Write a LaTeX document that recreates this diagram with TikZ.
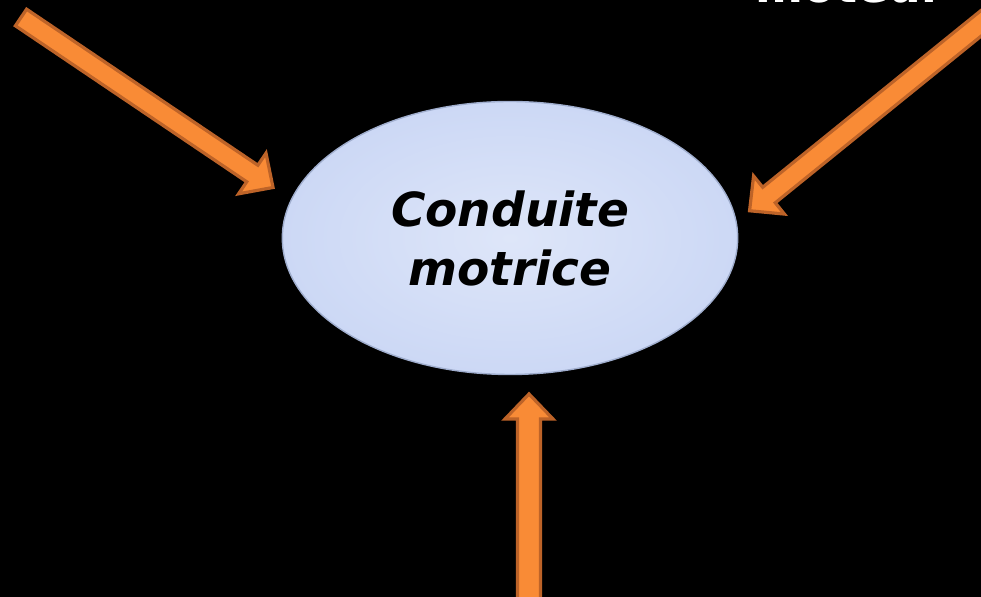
\documentclass[tikz,border=0pt]{standalone}
\usepackage{fontspec}
\setmainfont{DejaVu Sans}
\usetikzlibrary{shapes.geometric}

\definecolor{arrowfill}{RGB}{249,139,54}
\definecolor{arrowedge}{RGB}{189,99,40}
\definecolor{bubblein}{RGB}{222,230,249}
\definecolor{bubbleout}{RGB}{204,216,245}
\definecolor{bubbleedge}{RGB}{160,174,206}

% Block arrow: #1 tail coordinate, #2 direction angle, #3 length,
% #4 half shaft width, #5 half head width (all in picture units)
\newcommand\blockarrow[5]{%
  \begin{scope}[shift={(#1)}, rotate=#2]
    \draw[arrowbody] (0,-#4) -- ({#3-25},-#4) -- ({#3-25},-#5) -- (#3,0)
      -- ({#3-25},#5) -- ({#3-25},#4) -- (0,#4) -- cycle;
  \end{scope}}

\begin{document}
\begin{tikzpicture}[x=0.5pt, y=-0.5pt,
  arrowbody/.style={fill=arrowfill, draw=arrowedge, line width=1.6pt, line join=miter},
  bubble/.style={ellipse, inner sep=0pt, minimum width=227.7pt, minimum height=136.5pt,
    draw=bubbleedge, line width=0.7pt, inner color=bubblein, outer color=bubbleout,
    align=center, font=\fontsize{23.5}{29.5}\selectfont\bfseries\itshape},
  caption/.style={text=white, font=\fontsize{23}{28}\selectfont\bfseries}]

  \fill[black] (0,0) rectangle (981,597);
  \useasboundingbox (0,0) rectangle (981,597);

  % central bubble
  \node[bubble] (drive) at (510,238) {Conduite\\motrice};

  % label cut by the top edge
  \node[caption, anchor=base] (motor) at (850,3) {moteur};

  % arrow tails
  \coordinate (tailA) at (21,17.5);
  \coordinate (tailB) at (1013.8,-3.2);
  \coordinate (tailC) at (529,620);

  \blockarrow{tailA}{-34}{304}{10}{24.5}
  \blockarrow{tailB}{-141}{340}{10}{24.5}
  \blockarrow{tailC}{90}{226}{11.5}{24}
\end{tikzpicture}
\end{document}
